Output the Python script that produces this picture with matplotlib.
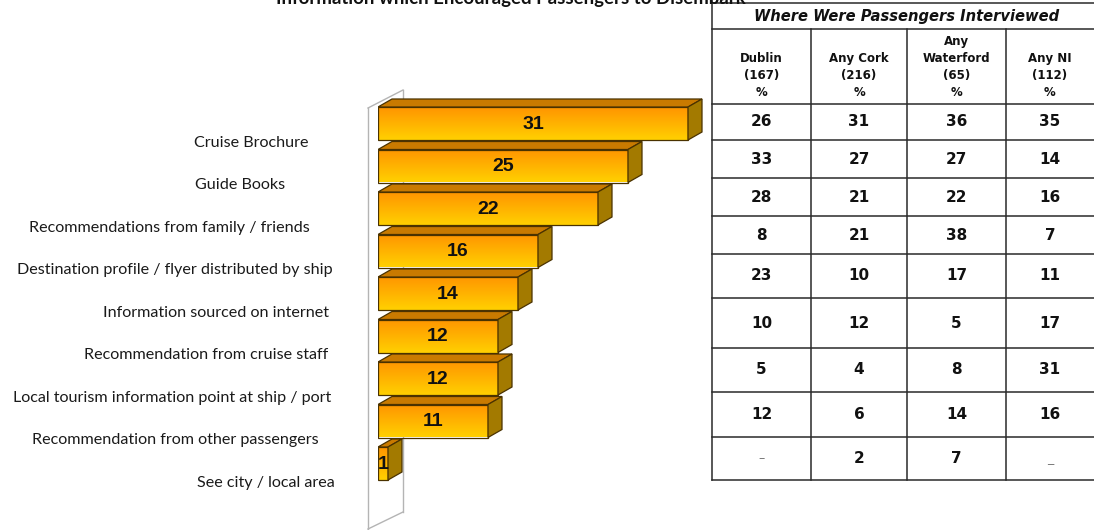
import numpy as np
import matplotlib.pyplot as plt
from matplotlib.colors import LinearSegmentedColormap
from matplotlib.patches import Polygon
from matplotlib import transforms

# sources of information, share of all passengers (%)
categories = [
    "Cruise Brochure",
    "Guide Books",
    "Recommendations from family / friends",
    "Destination profile / flyer distributed by ship",
    "Information sourced on internet",
    "Recommendation from cruise staff",
    "Local tourism information point at ship / port",
    "Recommendation from other passengers",
    "See city / local area",
]
totals = [31, 25, 22, 16, 14, 12, 12, 11, 1]

# breakdown by where the passenger was interviewed
locations = ["Dublin", "Any Cork", "Any\nWaterford", "Any NI"]
bases = [167, 216, 65, 112]
dublin = ["26", "33", "28", "8", "23", "10", "5", "12", "–"]
cork = ["31", "27", "21", "21", "10", "12", "4", "6", "2"]
waterford = ["36", "27", "22", "38", "17", "5", "8", "14", "7"]
northern_ireland = ["35", "14", "16", "7", "11", "17", "31", "16", "_"]

title = "Information which Encouraged Passengers to Disembark"
table_title = "Where Were Passengers Interviewed"

# layout (pixels)
W, H = 1094, 530
label_cx = [251, 240, 169, 175, 216, 206, 172, 175, 266]
row_edges = [3, 29, 104, 140, 178, 216, 254, 298, 348, 392, 437, 480]
col_edges = [712, 811, 907, 1006, 1102]

fig = plt.figure(figsize=(W / 100, H / 100), dpi=100)

# background axes in pixel units for frame, table and captions
ax_bg = fig.add_axes([0, 0, 1, 1])
ax_bg.set_xlim(0, W)
ax_bg.set_ylim(H, 0)
ax_bg.axis("off")

# bar axes: 10 px per percentage point, 42.5 px per category
x0_px, pitch = 378, 42.5
y_top_px = 123.5 - pitch
ax = fig.add_axes([x0_px / W, (H - (y_top_px + 10 * pitch)) / H, 340 / W, 10 * pitch / H])
ax.patch.set_alpha(0)
ax.axis("off")

# 3D wall behind the bars
wall = "#b4b4b4"
ax_bg.plot([368, 368], [108, 529], color=wall, lw=1)
ax_bg.plot([403, 403], [90, 512], color=wall, lw=1)
ax_bg.plot([368, 403], [108, 90], color=wall, lw=1)
ax_bg.plot([368, 403], [529, 512], color=wall, lw=1)

grad = LinearSegmentedColormap.from_list("bar", ["#ff9500", "#ffb200", "#ffd000"])
h = 33 / pitch
dx, dy = 1.4, 8 / pitch
edge = "#4a3200"

for i, v in enumerate(totals):
    top, bot = i - h / 2, i + h / 2
    ax.imshow(np.linspace(0, 1, 64).reshape(-1, 1), cmap=grad, aspect="auto",
              extent=(0, v, bot, top), origin="upper", interpolation="bilinear", zorder=2)
    ax.barh(i, v, height=h, left=0, facecolor="none", edgecolor=edge, lw=0.9, zorder=3)
    ax.add_patch(Polygon([(0, top), (v, top), (v + dx, top - dy), (dx, top - dy)],
                         closed=True, facecolor="#c97a00", edgecolor=edge, lw=0.9, zorder=3))
    ax.add_patch(Polygon([(v, top), (v + dx, top - dy), (v + dx, bot - dy), (v, bot)],
                         closed=True, facecolor="#a37a00", edgecolor=edge, lw=0.9, zorder=3))
    ax.text(v / 2, i + 0.02, str(v), ha="center", va="center", fontsize=14, fontweight="bold",
            family="Liberation Sans", color="#111111", zorder=4)

ax.set_xlim(0, 34)
ax.set_ylim(9, -1)

# category captions, placed half a step below each bar
lab_tr = transforms.blended_transform_factory(ax_bg.transData, ax.transData)
for i, (name, cx) in enumerate(zip(categories, label_cx)):
    ax_bg.text(cx, i + 0.45, name, transform=lab_tr, ha="center", va="center",
               fontsize=11.6, family="Lato", color="#1a1a1a")

# chart title, partly above the page edge
ax_bg.text(276, 4, title, ha="left", va="baseline", fontsize=13.4, fontweight="bold",
           family="Lato", color="#111111")

# table grid
line = "#2a2a2a"
for y in row_edges:
    ax_bg.plot([col_edges[0], col_edges[-1]], [y, y], color=line, lw=1.1)
ax_bg.plot([col_edges[0]] * 2, [0, row_edges[-1]], color=line, lw=1.1)
for x in col_edges[1:]:
    ax_bg.plot([x, x], [row_edges[1], row_edges[-1]], color=line, lw=1.1)

ax_bg.text(907, (row_edges[0] + row_edges[1]) / 2 + 1, table_title, ha="center", va="center",
           fontsize=10.6, fontweight="bold", style="italic", family="DejaVu Sans",
           color="#111111")

columns = [dublin, cork, waterford, northern_ireland]
for c, (loc, n, vals) in enumerate(zip(locations, bases, columns)):
    cx = (col_edges[c] + col_edges[c + 1]) / 2
    if c == 3:
        cx -= 4
    ax_bg.text(cx, row_edges[2] - 5, f"{loc}\n({n})\n%", ha="center", va="bottom",
               fontsize=8.5, fontweight="bold", family="DejaVu Sans", linespacing=1.4,
               color="#111111")
    for r, val in enumerate(vals):
        cy = (row_edges[r + 2] + row_edges[r + 3]) / 2
        if val in ("–", "_"):
            ax_bg.text(cx, cy, val, ha="center", va="center", fontsize=9,
                       family="DejaVu Sans", color="#777777")
        else:
            ax_bg.text(cx, cy, val, ha="center", va="center", fontsize=11,
                       fontweight="bold", family="DejaVu Sans", color="#111111")

fig.savefig("out.png", dpi=100)
